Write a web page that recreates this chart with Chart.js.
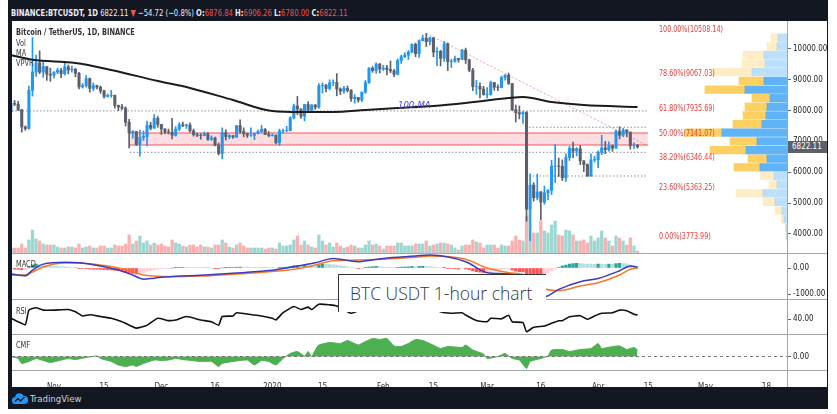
<!DOCTYPE html>
<html lang="en">
<head>
<meta charset="utf-8">
<title>BTCUSDT 1D - BINANCE</title>
<script src="https://cdn.jsdelivr.net/npm/chart.js@4.4.1/dist/chart.umd.min.js"></script>
<style>
  html, body { margin: 0; padding: 0; background: #fff; }
  body { position: relative; width: 837px; height: 414px; overflow: hidden;
         font-family: "Liberation Sans Narrow", "DejaVu Sans Condensed", "Noto Sans", sans-serif; }
  .abs { position: absolute; }
  #frame { left: 8px; top: 0; width: 820px; height: 409px; background: #131722; }
  #pane { left: 12px; top: 21px; width: 815px; height: 366px; background: #fff; }
  #topbar { left: 11px; top: 7px; font-size: 9.5px; line-height: 12px; color: #eceef3; white-space: nowrap;
            transform: scaleX(0.8); transform-origin: 0 50%; }
  #topbar .dn { color: #ef5350; }
  .hl { left: 12px; width: 815px; height: 1px; background: #a3a6ad; z-index: 5; }
  .vl { left: 787px; top: 21px; width: 1px; height: 366px; background: #a3a6ad; z-index: 5; }
  .lbl { font-size: 8.5px; line-height: 10px; color: #333; white-space: nowrap; z-index: 6;
         transform: scaleX(0.86); transform-origin: 0 50%; }
  .fib { left: 659px; font-size: 9px; line-height: 10px; color: #ec3b3b; white-space: nowrap; z-index: 6;
         transform: scaleX(0.79); transform-origin: 0 50%; }
  #tag { left: 788px; width: 39px; height: 12px; background: #5d606b; color: #fff; font-size: 8px;
         line-height: 12px; padding-left: 4px; box-sizing: border-box; z-index: 6; }
  #ma-label { left: 398px; top: 100px; font-size: 9.5px; line-height: 10px; font-style: italic; color: #4646ee; z-index: 6; }
  #caption { left: 338px; top: 274px; width: 207px; height: 37px; background: #fff;
             border-top: 1px solid #333; border-left: 1px solid #333; z-index: 7; }
  #caption span { position: absolute; left: 11px; top: 8px; font-family: "Open Sans", sans-serif; font-weight: 300;
                  font-size: 17.5px; line-height: 20px; color: #2b3550; white-space: nowrap; }
  #footer { left: 12px; top: 392px; height: 14px; color: #d1d4dc; font-size: 9.5px; line-height: 14px; z-index: 2; }
  #footer svg { vertical-align: -2px; margin-right: 2px; }
  .wrap { position: absolute; }
</style>
</head>
<body>
<div id="frame" class="abs"></div>
<div id="topbar" class="abs"><b>BINANCE:BTCUSDT, 1D</b> 6822.11 <span class="dn">▼</span> −54.72 (−0.8%) <b>O:</b><span class="dn">6876.84</span> <b>H:</b><span class="dn">6906.26</span> <b>L:</b><span class="dn">6780.00</span> <b>C:</b><span class="dn">6822.11</span></div>
<div id="pane" class="abs"></div>

<div class="wrap" style="left:12px;top:21px;z-index:1"><canvas id="vpvr" width="775" height="232"></canvas></div>
<div class="wrap" style="left:12px;top:21px;z-index:2"><canvas id="price" width="815" height="232"></canvas></div>
<div class="wrap" style="left:12px;top:253px;z-index:2"><canvas id="macd" width="815" height="46"></canvas></div>
<div class="wrap" style="left:12px;top:299px;z-index:2"><canvas id="rsi" width="815" height="35"></canvas></div>
<div class="wrap" style="left:12px;top:334px;z-index:2"><canvas id="cmf" width="815" height="53"></canvas></div>

<div class="abs hl" style="top:253px"></div>
<div class="abs hl" style="top:299px"></div>
<div class="abs hl" style="top:334px"></div>
<div class="abs hl" style="top:370px"></div>
<div class="abs vl"></div>

<div class="abs lbl" style="left:16px;top:27px;font-weight:bold">Bitcoin / TetherUS, 1D, BINANCE</div>
<div class="abs lbl" style="left:16px;top:38px">Vol</div>
<div class="abs lbl" style="left:16px;top:48px">MA</div>
<div class="abs lbl" style="left:16px;top:58px">VPVR</div>
<div class="abs lbl" style="left:16px;top:259px">MACD</div>
<div class="abs lbl" style="left:16px;top:306px">RSI</div>
<div class="abs lbl" style="left:16px;top:340px">CMF</div>
<div id="ma-label" class="abs">100-MA</div>

<div id="caption" class="abs"><span>BTC USDT 1-hour chart</span></div>

<div id="footer" class="abs"><svg width="16" height="11" viewBox="0 0 16 11"><path d="M3.5 11a3.5 3.5 0 0 1-.4-7A4.6 4.6 0 0 1 11.8 3a4 4 0 0 1 .7 8z" fill="#2196f3"/><path d="M3 8.5l3-3 2.5 2.5 4-4" stroke="#131722" stroke-width="1.3" fill="none"/></svg>TradingView</div>

<script>
// day index 0 = 20 Oct 2019, one candle per day up to 12 Apr 2020 (index 175)
const firstOpen = 7960;
const closes = [
  8230, 8210, 8030, 7470, 7420, 8660, 9250, 9550, 9250, 9430,
  9180, 9150, 9250, 9310, 9200, 9420, 9320, 9340, 9210, 8770,
  8810, 9040, 8720, 8810, 8760, 8640, 8460, 8490, 8500, 8170,
  8120, 8080, 7620, 7280, 7320, 6900, 7130, 7160, 7520, 7430,
  7750, 7550, 7400, 7310, 7300, 7200, 7400, 7540, 7510, 7530,
  7340, 7220, 7200, 7190, 7250, 7070, 7110, 6880, 6610, 7280,
  7150, 7190, 7140, 7510, 7320, 7250, 7200, 7200, 7250, 7320,
  7390, 7220, 7190, 7200, 6960, 7340, 7350, 7350, 7760, 8150,
  8050, 7820, 8200, 8020, 8180, 8110, 8810, 8820, 8720, 8900,
  8910, 8700, 8630, 8720, 8660, 8390, 8430, 8340, 8600, 8910,
  9380, 9300, 9510, 9350, 9380, 9330, 9290, 9180, 9620, 9750,
  9800, 9900, 10150, 9850, 10270, 10350, 10240, 10360, 9900, 9920,
  9700, 10170, 9590, 9600, 9690, 9660, 9960, 9650, 9310, 8780,
  8780, 8700, 8520, 8530, 8910, 8760, 8750, 9070, 9150, 8880,
  8030, 7930, 7890, 7940, 4800, 5580, 5170, 5360, 5030, 5330,
  5410, 6190, 6200, 6190, 5820, 6480, 6770, 6690, 6760, 6370,
  6250, 5880, 6400, 6410, 6640, 6790, 6730, 6860, 6780, 7330,
  7200, 7370, 7300, 6870, 6876.84, 6822.11
];
const highs = [
  8300, 8330, 8300, 8040, 7500, 8800, 10370, 9800, 9940, 9570,
  9430, 9380, 9270, 9380, 9370, 9600, 9480, 9440, 9380, 9240,
  8880, 9140, 9060, 8900, 8830, 8800, 8670, 8540, 8660, 8500,
  8180, 8200, 8120, 7720, 7350, 7330, 7370, 7340, 7660, 7620,
  7870, 7810, 7560, 7420, 7400, 7750, 7480, 7610, 7630, 7560,
  7600, 7400, 7270, 7250, 7310, 7290, 7180, 7140, 6950, 7440,
  7380, 7220, 7190, 7520, 7700, 7440, 7270, 7440, 7270, 7370,
  7520, 7420, 7320, 7250, 7210, 7400, 7400, 7490, 7800, 8210,
  8460, 8060, 8200, 8290, 8200, 8200, 8880, 8900, 8850, 9000,
  9000, 9200, 8740, 8790, 8800, 8680, 8520, 8430, 8600, 8980,
  9400, 9430, 9550, 9530, 9470, 9470, 9610, 9340, 9680, 9800,
  9880, 9950, 10170, 10190, 10300, 10450, 10508.14, 10390, 10380, 10050,
  9960, 10250, 10200, 9670, 9770, 9700, 9990, 10030, 9660, 9370,
  8980, 8900, 8790, 8750, 8960, 8920, 8840, 9120, 9170, 9220,
  8880, 8180, 8150, 7980, 7970, 5950, 5660, 5940, 5370, 5550,
  5440, 6390, 6900, 6460, 6400, 6600, 6840, 6980, 6800, 6870,
  6380, 6270, 6600, 6520, 6690, 7200, 7000, 6990, 6880, 7370,
  7470, 7420, 7380, 7310, 6950, 6906.26
];
const lows = [
  7880, 8160, 8000, 7300, 7360, 7400, 8470, 9110, 9200, 9080,
  8980, 8950, 9050, 9200, 9070, 9150, 9190, 9250, 9100, 8700,
  8730, 8760, 8600, 8650, 8700, 8560, 8400, 8440, 8430, 8080,
  8000, 8030, 7500, 6790, 7100, 6860, 6520, 7030, 6850, 7370,
  7420, 7460, 7230, 7250, 7240, 7080, 7170, 7350, 7480, 7420,
  7300, 7170, 7150, 7070, 7180, 7030, 7030, 6850, 6560, 6430,
  7040, 7080, 7100, 7120, 7260, 7150, 7130, 7160, 7060, 7240,
  7290, 7220, 7150, 7170, 6920, 6870, 7270, 7310, 7340, 7730,
  7870, 7750, 7670, 7980, 7970, 8040, 8080, 8570, 8610, 8670,
  8810, 8480, 8520, 8560, 8600, 8300, 8240, 8270, 8290, 8560,
  8880, 9240, 9210, 9220, 9300, 9160, 9230, 9100, 9160, 9530,
  9720, 9660, 9870, 9750, 9730, 10260, 10080, 10130, 9750, 9460,
  9450, 9600, 9300, 9400, 9570, 9570, 9660, 9530, 9260, 8650,
  8530, 8410, 8500, 8410, 8500, 8660, 8650, 8740, 8990, 8850,
  8000, 7630, 7730, 7580, 4410, 3773.99, 5060, 5100, 4450, 4960,
  5100, 5270, 5670, 5860, 5730, 5700, 6380, 6470, 6530, 6250,
  6020, 5860, 5860, 6330, 6150, 6570, 6600, 6680, 6680, 6770,
  7080, 7150, 7150, 6750, 6770, 6780
];
// daily volume, tens of thousands of BTC (approx.)
const volumes = [
  5, 5, 5, 9, 5, 13, 23, 14, 12, 9,
  8, 8, 8, 6, 5, 5, 6, 6, 5, 9,
  5, 6, 7, 5, 5, 7, 7, 5, 5, 8,
  7, 7, 9, 18, 9, 12, 17, 10, 12, 8,
  10, 8, 9, 7, 6, 13, 10, 9, 7, 6,
  8, 8, 6, 8, 6, 6, 5, 8, 8, 13,
  10, 6, 5, 8, 10, 7, 5, 5, 5, 5,
  5, 4, 5, 5, 4, 10, 7, 7, 8, 13,
  17, 8, 12, 8, 6, 5,
  18, 12, 8, 10, 6, 10, 7, 5, 6, 8,
  7, 5, 5, 8, 12, 8, 9, 7, 4, 7,
  7, 7, 10, 10, 7, 7, 7, 9, 9, 9,
  12, 7, 8, 9, 10, 10, 9, 8, 5, 3,
  7, 8, 8, 13, 11, 10, 5, 8, 8, 8,
  5, 8, 7, 7, 12, 17, 13, 12, 37, 43,
  20, 20, 32, 22, 20, 28, 32, 18, 17, 23,
  22, 18, 12, 12, 13, 10, 17, 12, 15, 22,
  15, 12, 7, 17, 15, 12, 8, 15, 7, 2
];

// 100-day moving average
const maDays = [0, 6, 18, 28, 41, 50, 62, 73, 81, 90, 99, 108, 118, 127, 139, 143, 151, 160, 175];
const maValues = [9800, 9650, 9545, 9318, 8961, 8734, 8344, 7987, 7955, 7955, 8019, 8084, 8149, 8247, 8409, 8442, 8279, 8182, 8117];

// MACD
const macdDays = [0, 4, 6, 9, 15, 19, 25, 30, 34, 37, 40, 44, 53, 62, 72, 79, 85, 90, 97, 104, 113, 117, 127, 133, 139, 144, 146, 149, 153, 159, 164, 170, 173, 175];
const macdValues = [-230, -300, -80, 150, 220, 200, 80, -80, -270, -430, -390, -335, -280, -205, -100, 50, 200, 370, 245, 370, 460, 500, 240, -180, -230, -450, -850, -1100, -820, -530, -400, -105, 75, 25];
const signalValues = [-270, -270, -155, 40, 190, 190, 115, 0, -140, -270, -310, -335, -310, -240, -140, -50, 115, 280, 305, 335, 410, 460, 335, 0, -180, -300, -550, -800, -870, -690, -565, -270, -50, -12];
const histValues = [
  -40, -45, -50, -60, -55, 40, 120, 150, 140, 120, 100, 80,
  70, 60, 50, 45, 35, 20, 10, -10, -20, -25, -40, -45,
  -50, -55, -65, -70, -75, -90, -100, -110, -140, -190, -210, -230,
  -200, -170, -130, -100, -70, -50, -30, -20, -10, 0, 10, 20,
  25, 25, 20, 20, 15, 15, 10, 5, 0, -10, -25, 0,
  10, 15, 20, 30, 35, 35, 35, 30, 30, 30, 25, 20,
  15, 10, 0, 10, 25, 35, 60, 90, 100, 100, 110, 100,
  95, 90, 130, 140, 140, 135, 130, 110, 85, 70, 50, 20,
  0, -15, -10, 10, 40, 50, 60, 55, 40, 30, 25, 10,
  25, 35, 40, 45, 60, 50, 60, 65, 60, 55, 30, 15,
  0, 10, -10, -20, -30, -40, -35, -40, -60, -110, -140, -160,
  -170, -160, -130, -110, -90, -60, -40, -40, -80, -120, -140, -150,
  -250, -300, -350, -380, -400, -290, -180, -100, -40, 20, 80, 110,
  150, 170, 180, 170, 160, 150, 150, 140, 150, 150, 140, 150,
  140, 170, 180, 170, 160, 120, 100, 70
];

// RSI
const rsiDays = [0, 2, 4, 5, 7, 9, 12, 16, 18, 20, 22, 25, 28, 31, 34, 35, 38, 41, 44, 46, 49, 53, 56, 58, 59, 62, 63, 68, 70, 73, 74, 76, 79, 81, 83, 84, 86, 89, 91, 95, 100, 104, 108, 112, 116, 120, 123, 126, 127, 130, 133, 134, 137, 139, 140, 143, 144, 146, 149, 151, 153, 154, 156, 159, 161, 163, 165, 168, 170, 172, 174, 175];
const rsiValues = [42, 36, 31, 56, 60, 56, 56, 57, 53, 46, 48, 45, 42, 36, 27.5, 25, 30, 42, 38, 39, 45, 39, 36, 30, 45, 46, 51.5, 47.5, 46, 42, 39, 51.5, 62, 57, 61, 57, 66, 65, 63, 50.5, 62, 62, 66, 70, 69, 53, 50.5, 51.5, 47.5, 38, 36, 42, 41, 47, 36, 34.5, 19, 26.5, 28.7, 33.3, 37.8, 37.8, 44.7, 46.4, 40.2, 45.9, 50.5, 51.5, 56, 55, 48.8, 47.6];

// Chaikin money flow
const cmfDays = [0, 2, 3, 5, 7, 9, 11, 14, 16, 18, 21, 24, 25, 27, 28, 30, 32, 34, 35, 37, 40, 42, 44, 46, 49, 53, 56, 58, 59, 62, 66, 68, 70, 72, 74, 76, 78, 80, 82, 83, 84, 85, 86, 89, 92, 94, 97, 99, 101, 103, 105, 107, 109, 111, 113, 115, 117, 120, 122, 126, 127, 129, 132, 133, 136, 138, 140, 142, 144, 145, 148, 150, 151, 154, 156, 159, 162, 164, 165, 168, 170, 172, 174, 175];
const cmfValues = [0, -0.02, -0.07, -0.05, -0.02, -0.04, -0.06, -0.035, -0.02, -0.03, -0.01, 0.005, -0.02, -0.04, -0.05, -0.085, -0.10, -0.085, -0.10, -0.07, -0.035, -0.04, -0.035, -0.02, -0.035, -0.05, -0.05, -0.10, -0.07, -0.05, -0.035, -0.085, -0.04, -0.05, -0.085, -0.02, 0.03, 0.05, 0.005, 0.05, 0, 0.065, 0.115, 0.14, 0.13, 0.16, 0.115, 0.15, 0.18, 0.17, 0.18, 0.105, 0.10, 0.13, 0.17, 0.16, 0.13, 0.08, 0.10, 0.09, 0.115, 0.065, 0.025, -0.02, 0, 0.03, -0.02, -0.035, -0.12, -0.05, -0.02, 0.005, 0.065, 0.07, 0.05, 0.07, 0.08, 0.13, 0.08, 0.10, 0.105, 0.07, 0.09, 0.065];

// axes
const priceTicks = [4000, 5000, 6000, 7000, 8000, 9000, 10000];
const timeTickDays = [12, 26, 42, 57, 73, 87, 104, 118, 133, 148, 164, 178, 194, 211];
const timeTickLabels = ['Nov', '15', 'Dec', '16', '2020', '15', 'Feb', '15', 'Mar', '16', 'Apr', '15', 'May', '18'];

// fibonacci retracement 3773.99 -> 10508.14
const fibPrices = [10508.14, 9067.03, 7935.69, 7141.07, 6346.44, 5363.25, 3773.99];
const fibLabels = ['100.00%(10508.14)', '78.60%(9067.03)', '61.80%(7935.69)', '50.00%(7141.07)', '38.20%(6346.44)', '23.60%(5363.25)', '0.00%(3773.99)'];

// visible range volume profile, 24 rows from the bottom up
const vpLow = 3773.99, vpHigh = 10508.14;
const vpUp = [0.5, 1, 3, 5, 12, 24, 10, 13, 27, 20, 41, 30, 65, 25, 21, 20, 17, 42, 23, 35, 22, 23, 10, 9];
const vpDown = [0.5, 1, 3, 7, 12, 27, 8, 14, 26, 19, 36, 27, 37, 29, 23, 22, 18, 40, 25, 40, 23, 21, 10, 7];
const vpValueArea = [8, 18];

// drawings
const boxDays = [33.2, 177.9];
const boxPrices = [6883, 7273];
const dottedLevels = [7990, 7460, 6646, 5877];
const dottedFrom = [0.28, 144.7, 33.2, 144.7];
const dottedTo = 177.9;
const trendDays = [116, 177.9];
const trendPrices = [10508.14, 6850];

document.addEventListener('DOMContentLoaded', function () {
    const FONT = '"Liberation Sans Narrow", "DejaVu Sans Condensed", "Noto Sans", sans-serif';
    Chart.defaults.font.family = FONT;
    Chart.defaults.color = '#333';
    Chart.defaults.animation = false;
    Chart.defaults.responsive = false;
    Chart.defaults.plugins.legend.display = false;
    Chart.defaults.plugins.tooltip.enabled = false;
    Chart.defaults.elements.point.radius = 0;

    const xMin = 0.28, xMax = 216.76;
    const priceMin = 3377, priceMax = 10909;

    function timeAxis(show) {
        return {
            type: 'linear', min: xMin, max: xMax, offset: false, display: show,
            grid: { display: false }, border: { display: false },
            afterBuildTicks: s => { s.ticks = timeTickDays.map(v => ({ value: v })); },
            afterFit: s => {
                if (show) { s.height = 17; }
                s.paddingLeft = 0; s.paddingRight = 0;
            },
            ticks: {
                autoSkip: false, maxRotation: 0, padding: 4, color: '#333', font: { size: 8 },
                callback: (v, idx) => timeTickLabels[idx]
            }
        };
    }

    function rightAxis(min, max, ticks) {
        return {
            type: 'linear', position: 'right', min: min, max: max,
            afterBuildTicks: s => { s.ticks = ticks.map(v => ({ value: v })); },
            afterFit: s => { s.width = 40; s.paddingTop = 0; s.paddingBottom = 0; },
            grid: { drawOnChartArea: false, drawTicks: true, tickLength: 4, color: '#666' },
            border: { display: false },
            ticks: { padding: 2, color: '#222', font: { size: 8 }, callback: v => Number(v).toFixed(2) }
        };
    }

    const seg = (x0, x1, y) => [{ x: x0, y: y }, { x: x1, y: y }];
    const days = closes.map((c, i) => i);
    const opens = closes.map((c, i) => i === 0 ? firstOpen : closes[i - 1]);
    const isUp = i => closes[i] >= opens[i];
    const candleColors = days.map(i => isUp(i) ? '#2196f3' : '#5d606b');
    const volColors = days.map(i => isUp(i) ? 'rgba(38,166,154,0.45)' : 'rgba(239,83,80,0.45)');

    // volume profile (drawn under the price canvas)
    const vpStep = (vpHigh - vpLow) / vpUp.length;
    const vpCenters = vpUp.map((v, k) => vpLow + (k + 0.5) * vpStep);
    const inVA = k => k >= vpValueArea[0] && k <= vpValueArea[1];
    new Chart(document.getElementById('vpvr'), {
        type: 'bar',
        data: {
            datasets: [
                {
                    data: vpCenters.map((c, k) => ({ x: vpUp[k], y: c })),
                    backgroundColor: vpUp.map((v, k) => inVA(k) ? 'rgba(33,150,243,0.72)' : 'rgba(33,150,243,0.3)'),
                    barThickness: 7.6
                },
                {
                    data: vpCenters.map((c, k) => ({ x: vpDown[k], y: c })),
                    backgroundColor: vpDown.map((v, k) => inVA(k) ? 'rgba(251,192,45,0.75)' : 'rgba(251,192,45,0.28)'),
                    barThickness: 7.6
                }
            ]
        },
        options: {
            indexAxis: 'y',
            layout: { padding: 0 },
            scales: {
                x: { type: 'linear', min: 0, max: 775, reverse: true, stacked: true, display: false },
                y: { type: 'linear', min: priceMin, max: priceMax, stacked: true, display: false, offset: false }
            }
        }
    });

    // price panel
    const priceChart = new Chart(document.getElementById('price'), {
        type: 'bar',
        data: {
            datasets: [
                { type: 'line', data: seg(boxDays[0], boxDays[1], boxPrices[1]), borderColor: 'rgba(242,54,69,0.85)',
                  borderWidth: 1, backgroundColor: 'rgba(242,54,69,0.17)', fill: '+1', order: 20 },
                { type: 'line', data: seg(boxDays[0], boxDays[1], boxPrices[0]), borderColor: 'rgba(242,54,69,0.85)',
                  borderWidth: 1, fill: false, order: 20 },
                ...dottedLevels.map((p, k) => ({
                    type: 'line', data: seg(dottedFrom[k], dottedTo, p), borderColor: '#8a8d94',
                    borderWidth: 1, borderDash: [1.5, 2], fill: false, order: 19
                })),
                { type: 'bar', yAxisID: 'yVol', data: days.map(i => ({ x: i, y: volumes[i] })),
                  backgroundColor: volColors, barThickness: 2.6, grouped: false, order: 18 },
                { type: 'line', data: [{ x: trendDays[0], y: trendPrices[0] }, { x: trendDays[1], y: trendPrices[1] }],
                  borderColor: 'rgba(242,54,69,0.5)', borderWidth: 1, borderDash: [2, 2], fill: false, order: 17 },
                { type: 'bar', data: days.map(i => ({ x: i, y: [lows[i], highs[i]] })),
                  backgroundColor: candleColors, barThickness: 1, grouped: false, order: 6 },
                { type: 'bar', data: days.map(i => ({ x: i, y: [opens[i], closes[i]] })),
                  backgroundColor: candleColors, barThickness: 2.4, grouped: false, order: 5 },
                { type: 'line', data: maDays.map((d, k) => ({ x: d, y: maValues[k] })), borderColor: '#1c1c1c',
                  borderWidth: 2, cubicInterpolationMode: 'monotone', fill: false, order: 3 }
            ]
        },
        options: {
            layout: { padding: 0 },
            scales: {
                x: timeAxis(false),
                y: rightAxis(priceMin, priceMax, priceTicks),
                yVol: { type: 'linear', display: false, min: 0, max: 232 }
            }
        }
    });

    // MACD panel
    const histColors = histValues.map((h, i) => {
        const prev = i > 0 ? histValues[i - 1] : h;
        if (h >= 0) return h > prev ? '#26a69a' : '#b2dfdb';
        return h < prev ? '#ff5252' : '#ffcdd2';
    });
    new Chart(document.getElementById('macd'), {
        type: 'bar',
        data: {
            datasets: [
                { type: 'bar', data: days.map(i => ({ x: i, y: histValues[i] })), backgroundColor: histColors,
                  barThickness: 2.6, grouped: false, order: 3 },
                { type: 'line', data: macdDays.map((d, k) => ({ x: d, y: signalValues[k] })), borderColor: '#f7782a',
                  borderWidth: 1.5, cubicInterpolationMode: 'monotone', fill: false, order: 2 },
                { type: 'line', data: macdDays.map((d, k) => ({ x: d, y: macdValues[k] })), borderColor: '#3b3bbf',
                  borderWidth: 1.5, cubicInterpolationMode: 'monotone', fill: false, order: 1 }
            ]
        },
        options: {
            layout: { padding: 0 },
            scales: { x: timeAxis(false), y: rightAxis(-1192, 577, [0, -1000]) }
        }
    });

    // RSI panel
    new Chart(document.getElementById('rsi'), {
        type: 'line',
        data: {
            datasets: [
                { data: rsiDays.map((d, k) => ({ x: d, y: rsiValues[k] })), borderColor: '#111',
                  borderWidth: 1.6, tension: 0.15, fill: false }
            ]
        },
        options: {
            layout: { padding: 0 },
            scales: { x: timeAxis(false), y: rightAxis(15, 75, [40]) }
        }
    });

    // CMF panel with the time axis
    new Chart(document.getElementById('cmf'), {
        type: 'line',
        data: {
            datasets: [
                { data: [{ x: xMin, y: 0 }, { x: xMax, y: 0 }], borderColor: '#777', borderWidth: 1,
                  borderDash: [3, 3], fill: false, order: 1 },
                { data: cmfDays.map((d, k) => ({ x: d, y: cmfValues[k] })), borderColor: '#4caf50',
                  backgroundColor: '#4caf50', borderWidth: 1, tension: 0.15, fill: 'origin', order: 2 }
            ]
        },
        options: {
            layout: { padding: 0 },
            scales: { x: timeAxis(true), y: rightAxis(-0.135, 0.225, [0]) }
        }
    });

    // fibonacci labels and last price tag, placed with the price scale
    const yScale = priceChart.scales.y;
    const top0 = 21;
    fibPrices.forEach((p, k) => {
        const el = document.createElement('div');
        el.className = 'abs fib';
        el.textContent = fibLabels[k];
        el.style.top = (top0 + yScale.getPixelForValue(p) - 9.5) + 'px';
        document.body.appendChild(el);
    });
    const tag = document.createElement('div');
    tag.id = 'tag';
    tag.className = 'abs';
    tag.textContent = closes[closes.length - 1].toFixed(2);
    tag.style.top = (top0 + yScale.getPixelForValue(closes[closes.length - 1]) - 6) + 'px';
    document.body.appendChild(tag);
});
</script>
</body>
</html>
